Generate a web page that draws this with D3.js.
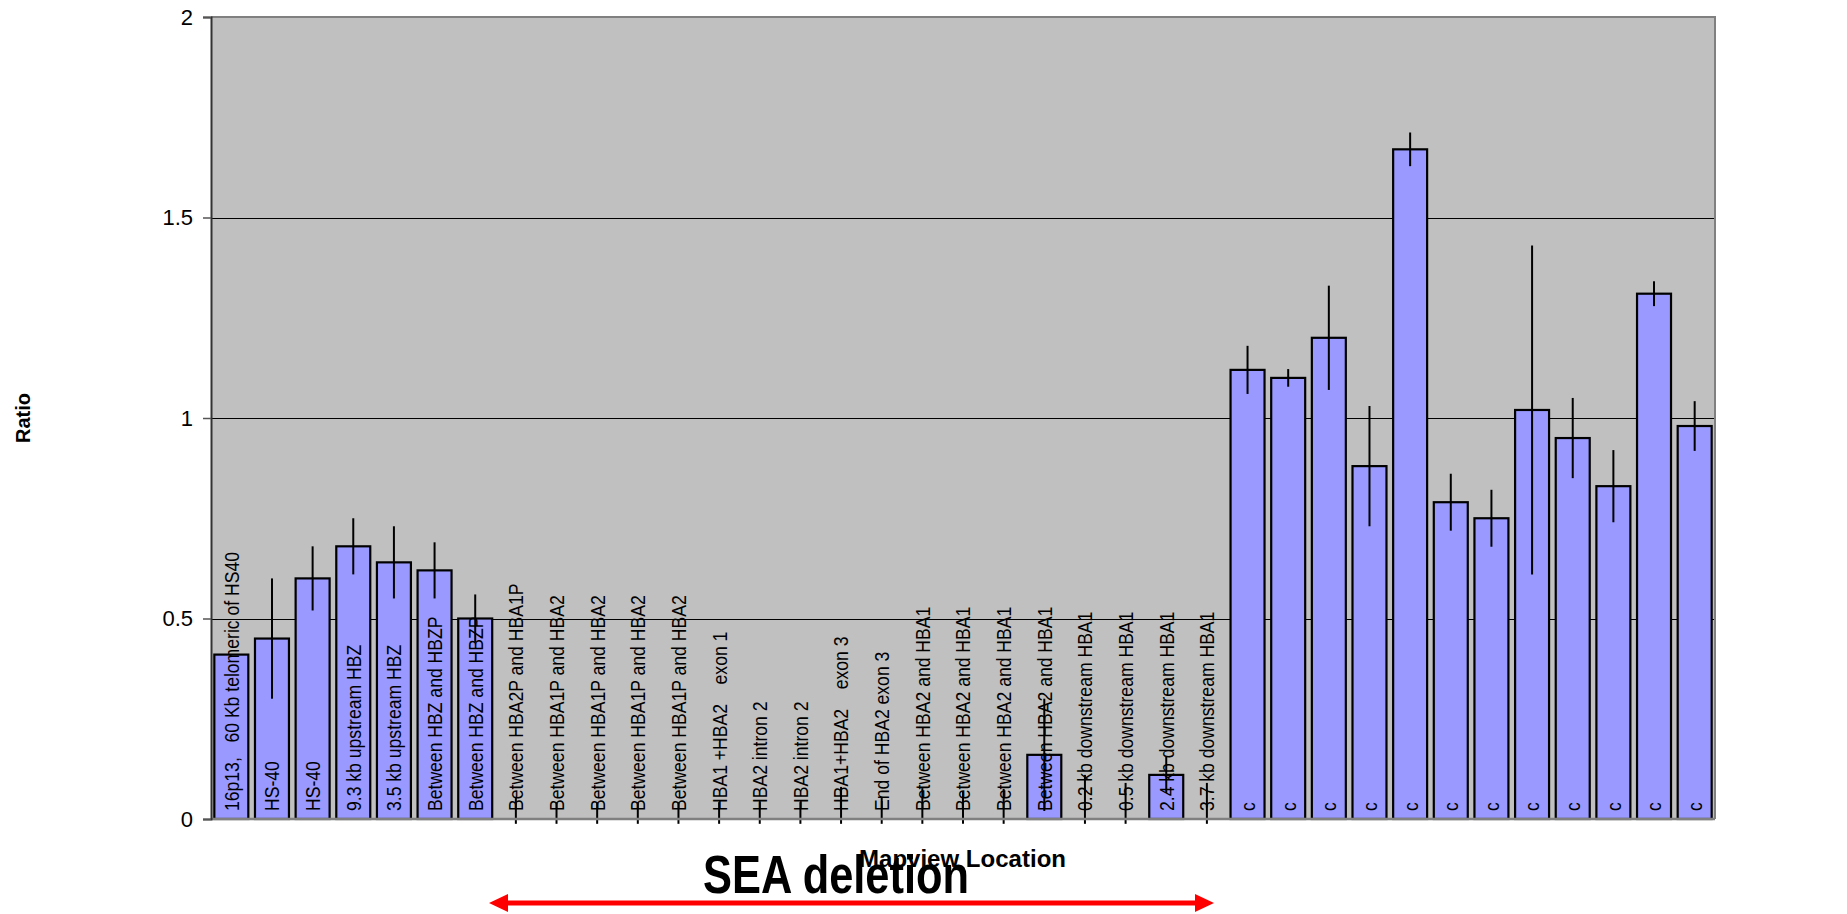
<!DOCTYPE html>
<html>
<head>
<meta charset="utf-8">
<script src="https://cdn.jsdelivr.net/npm/d3@7"></script>
<style>
  body { margin: 0; background: #fff; }
  text { font-family: "Liberation Sans", Arial, sans-serif; }
  .bar-label { white-space: pre; }
</style>
</head>
<body>
<script>
// Mapview locations (one bar each)
const labels = [
  "16p13,   60 Kb telomeric of HS40", "HS-40", "HS-40", "9.3 kb upstream HBZ",
  "3.5 kb upstream HBZ", "Between HBZ and HBZP", "Between HBZ and HBZP",
  "Between HBA2P and HBA1P", "Between HBA1P and HBA2", "Between HBA1P and HBA2",
  "Between HBA1P and HBA2", "Between HBA1P and HBA2", "HBA1 +HBA2    exon 1",
  "HBA2 intron 2", "HBA2 intron 2", "HBA1+HBA2    exon 3", "End of HBA2 exon 3",
  "Between HBA2 and HBA1", "Between HBA2 and HBA1", "Between HBA2 and HBA1",
  "Between HBA2 and HBA1", "0.2 kb downstream HBA1", "0.5 kb downstream HBA1",
  "2.4 kb downstream HBA1", "3.7 kb downstream HBA1",
  "c", "c", "c", "c", "c", "c", "c", "c", "c", "c", "c", "c"
];

const ratios = [
  0.41, 0.45, 0.60, 0.68, 0.64, 0.62, 0.50,
  0, 0, 0, 0, 0,
  0, 0, 0, 0, 0,
  0, 0, 0, 0.16,
  0, 0, 0.11, 0,
  1.12, 1.10, 1.20, 0.88, 1.67, 0.79, 0.75, 1.02, 0.95, 0.83, 1.31, 0.98
];

// error bar extent above / below each value
const errUp = [
  0, 0.15, 0.08, 0.07, 0.09, 0.07, 0.06,
  0.055, 0.042, 0.042, 0.042, 0.042,
  0.042, 0.042, 0.042, 0.08, 0.055,
  0.077, 0.07, 0.075, 0.14,
  0.11, 0.09, 0.045, 0.09,
  0.06, 0.022, 0.13, 0.15, 0.042, 0.071, 0.071, 0.41, 0.10, 0.09, 0.031, 0.062
];
const errDown = [
  0, 0.15, 0.08, 0.07, 0.09, 0.07, 0.06,
  0.012, 0.012, 0.012, 0.012, 0.012,
  0.012, 0.012, 0.012, 0.012, 0.012,
  0.012, 0.012, 0.012, 0.14,
  0.012, 0.012, 0.045, 0.012,
  0.06, 0.022, 0.13, 0.15, 0.042, 0.071, 0.071, 0.41, 0.10, 0.09, 0.031, 0.062
];

const yTicks = [0, 0.5, 1, 1.5, 2];

const data = labels.map((d, i) => ({
  i: i, label: d, value: ratios[i], up: errUp[i], down: errDown[i]
}));

const margin = { top: 17, right: 132, bottom: 95, left: 211 };
const W = 1847, H = 914;
const width = W - margin.left - margin.right;
const height = H - margin.top - margin.bottom;

const svg = d3.select("body")
  .append("svg")
  .attr("width", W)
  .attr("height", H);

const g = svg.append("g")
  .attr("transform", `translate(${margin.left},${margin.top})`);

const x = d3.scaleBand()
  .domain(data.map(d => d.i))
  .range([0, width])
  .paddingInner(0.164)
  .paddingOuter(0.082);

const y = d3.scaleLinear()
  .domain([0, 2])
  .range([height, 0]);

// plot area
g.append("rect")
  .attr("width", width)
  .attr("height", height)
  .attr("fill", "#C0C0C0");

// gridlines
g.append("g")
  .selectAll("line")
  .data(yTicks.filter(t => t > 0 && t < 2))
  .join("line")
  .attr("x1", 0)
  .attr("x2", width)
  .attr("y1", d => Math.round(y(d)) + 0.5)
  .attr("y2", d => Math.round(y(d)) + 0.5)
  .attr("stroke", "#000")
  .attr("stroke-width", 1);

// plot border (top / right)
g.append("path")
  .attr("d", `M0,${y(2)}H${width}V${height}`)
  .attr("fill", "none")
  .attr("stroke", "#808080")
  .attr("stroke-width", 2);

// bars
g.selectAll(".bar")
  .data(data.filter(d => d.value > 0))
  .join("rect")
  .attr("class", "bar")
  .attr("x", d => x(d.i))
  .attr("y", d => y(d.value))
  .attr("width", x.bandwidth())
  .attr("height", d => y(0) - y(d.value))
  .attr("fill", "#9999FF")
  .attr("stroke", "#000")
  .attr("stroke-width", 2.2);

// category labels written inside the plot, bottom to top
g.selectAll(".bar-label")
  .data(data)
  .join("text")
  .attr("class", "bar-label")
  .attr("transform", d => `translate(${x(d.i) + x.bandwidth() / 2},${height - 8}) rotate(-90) scale(1,1.2)`)
  .attr("dy", "0.35em")
  .style("font-size", "17.6px")
  .attr("fill", "#000")
  .text(d => d.label);

// error bars
g.selectAll(".err")
  .data(data.filter(d => d.up > 0 || d.down > 0))
  .join("line")
  .attr("class", "err")
  .attr("x1", d => x(d.i) + x.bandwidth() / 2)
  .attr("x2", d => x(d.i) + x.bandwidth() / 2)
  .attr("y1", d => y(d.value + d.up))
  .attr("y2", d => y(d.value - d.down))
  .attr("stroke", "#000")
  .attr("stroke-width", 2);

// x axis line
g.append("line")
  .attr("x1", 0)
  .attr("x2", width)
  .attr("y1", height)
  .attr("y2", height)
  .attr("stroke", "#808080")
  .attr("stroke-width", 2.5);

// y axis
const yAxis = d3.axisLeft(y)
  .tickValues(yTicks)
  .tickFormat(d3.format("~g"))
  .tickSize(8)
  .tickPadding(10);

const yg = g.append("g").call(yAxis);
yg.select(".domain").attr("stroke", "#333").attr("stroke-width", 2);
yg.selectAll(".tick line").attr("stroke", "#555").attr("stroke-width", 1.5);
yg.selectAll(".tick text")
  .style("font-size", "22px")
  .style("font-family", "'Liberation Sans', Arial, sans-serif")
  .attr("fill", "#000");

// axis titles
svg.append("text")
  .attr("transform", `translate(30,${margin.top + height / 2}) rotate(-90)`)
  .attr("text-anchor", "middle")
  .style("font-size", "20px")
  .style("font-weight", "bold")
  .text("Ratio");

svg.append("text")
  .attr("x", 859)
  .attr("y", 867)
  .attr("textLength", 207)
  .attr("lengthAdjust", "spacingAndGlyphs")
  .style("font-size", "24px")
  .style("font-weight", "bold")
  .text("Mapview Location");

// SEA deletion annotation
svg.append("text")
  .attr("x", 703)
  .attr("y", 893)
  .attr("textLength", 266)
  .attr("lengthAdjust", "spacingAndGlyphs")
  .style("font-size", "54px")
  .style("font-weight", "bold")
  .text("SEA deletion");

const ax1 = 489, ax2 = 1214, ay = 903, head = 19, half = 9;
svg.append("line")
  .attr("x1", ax1 + head - 2)
  .attr("x2", ax2 - head + 2)
  .attr("y1", ay)
  .attr("y2", ay)
  .attr("stroke", "#FF0000")
  .attr("stroke-width", 5);

svg.append("path")
  .attr("d", `M${ax1},${ay}L${ax1 + head},${ay - half}L${ax1 + head},${ay + half}Z` +
             `M${ax2},${ay}L${ax2 - head},${ay - half}L${ax2 - head},${ay + half}Z`)
  .attr("fill", "#FF0000");
</script>
</body>
</html>
